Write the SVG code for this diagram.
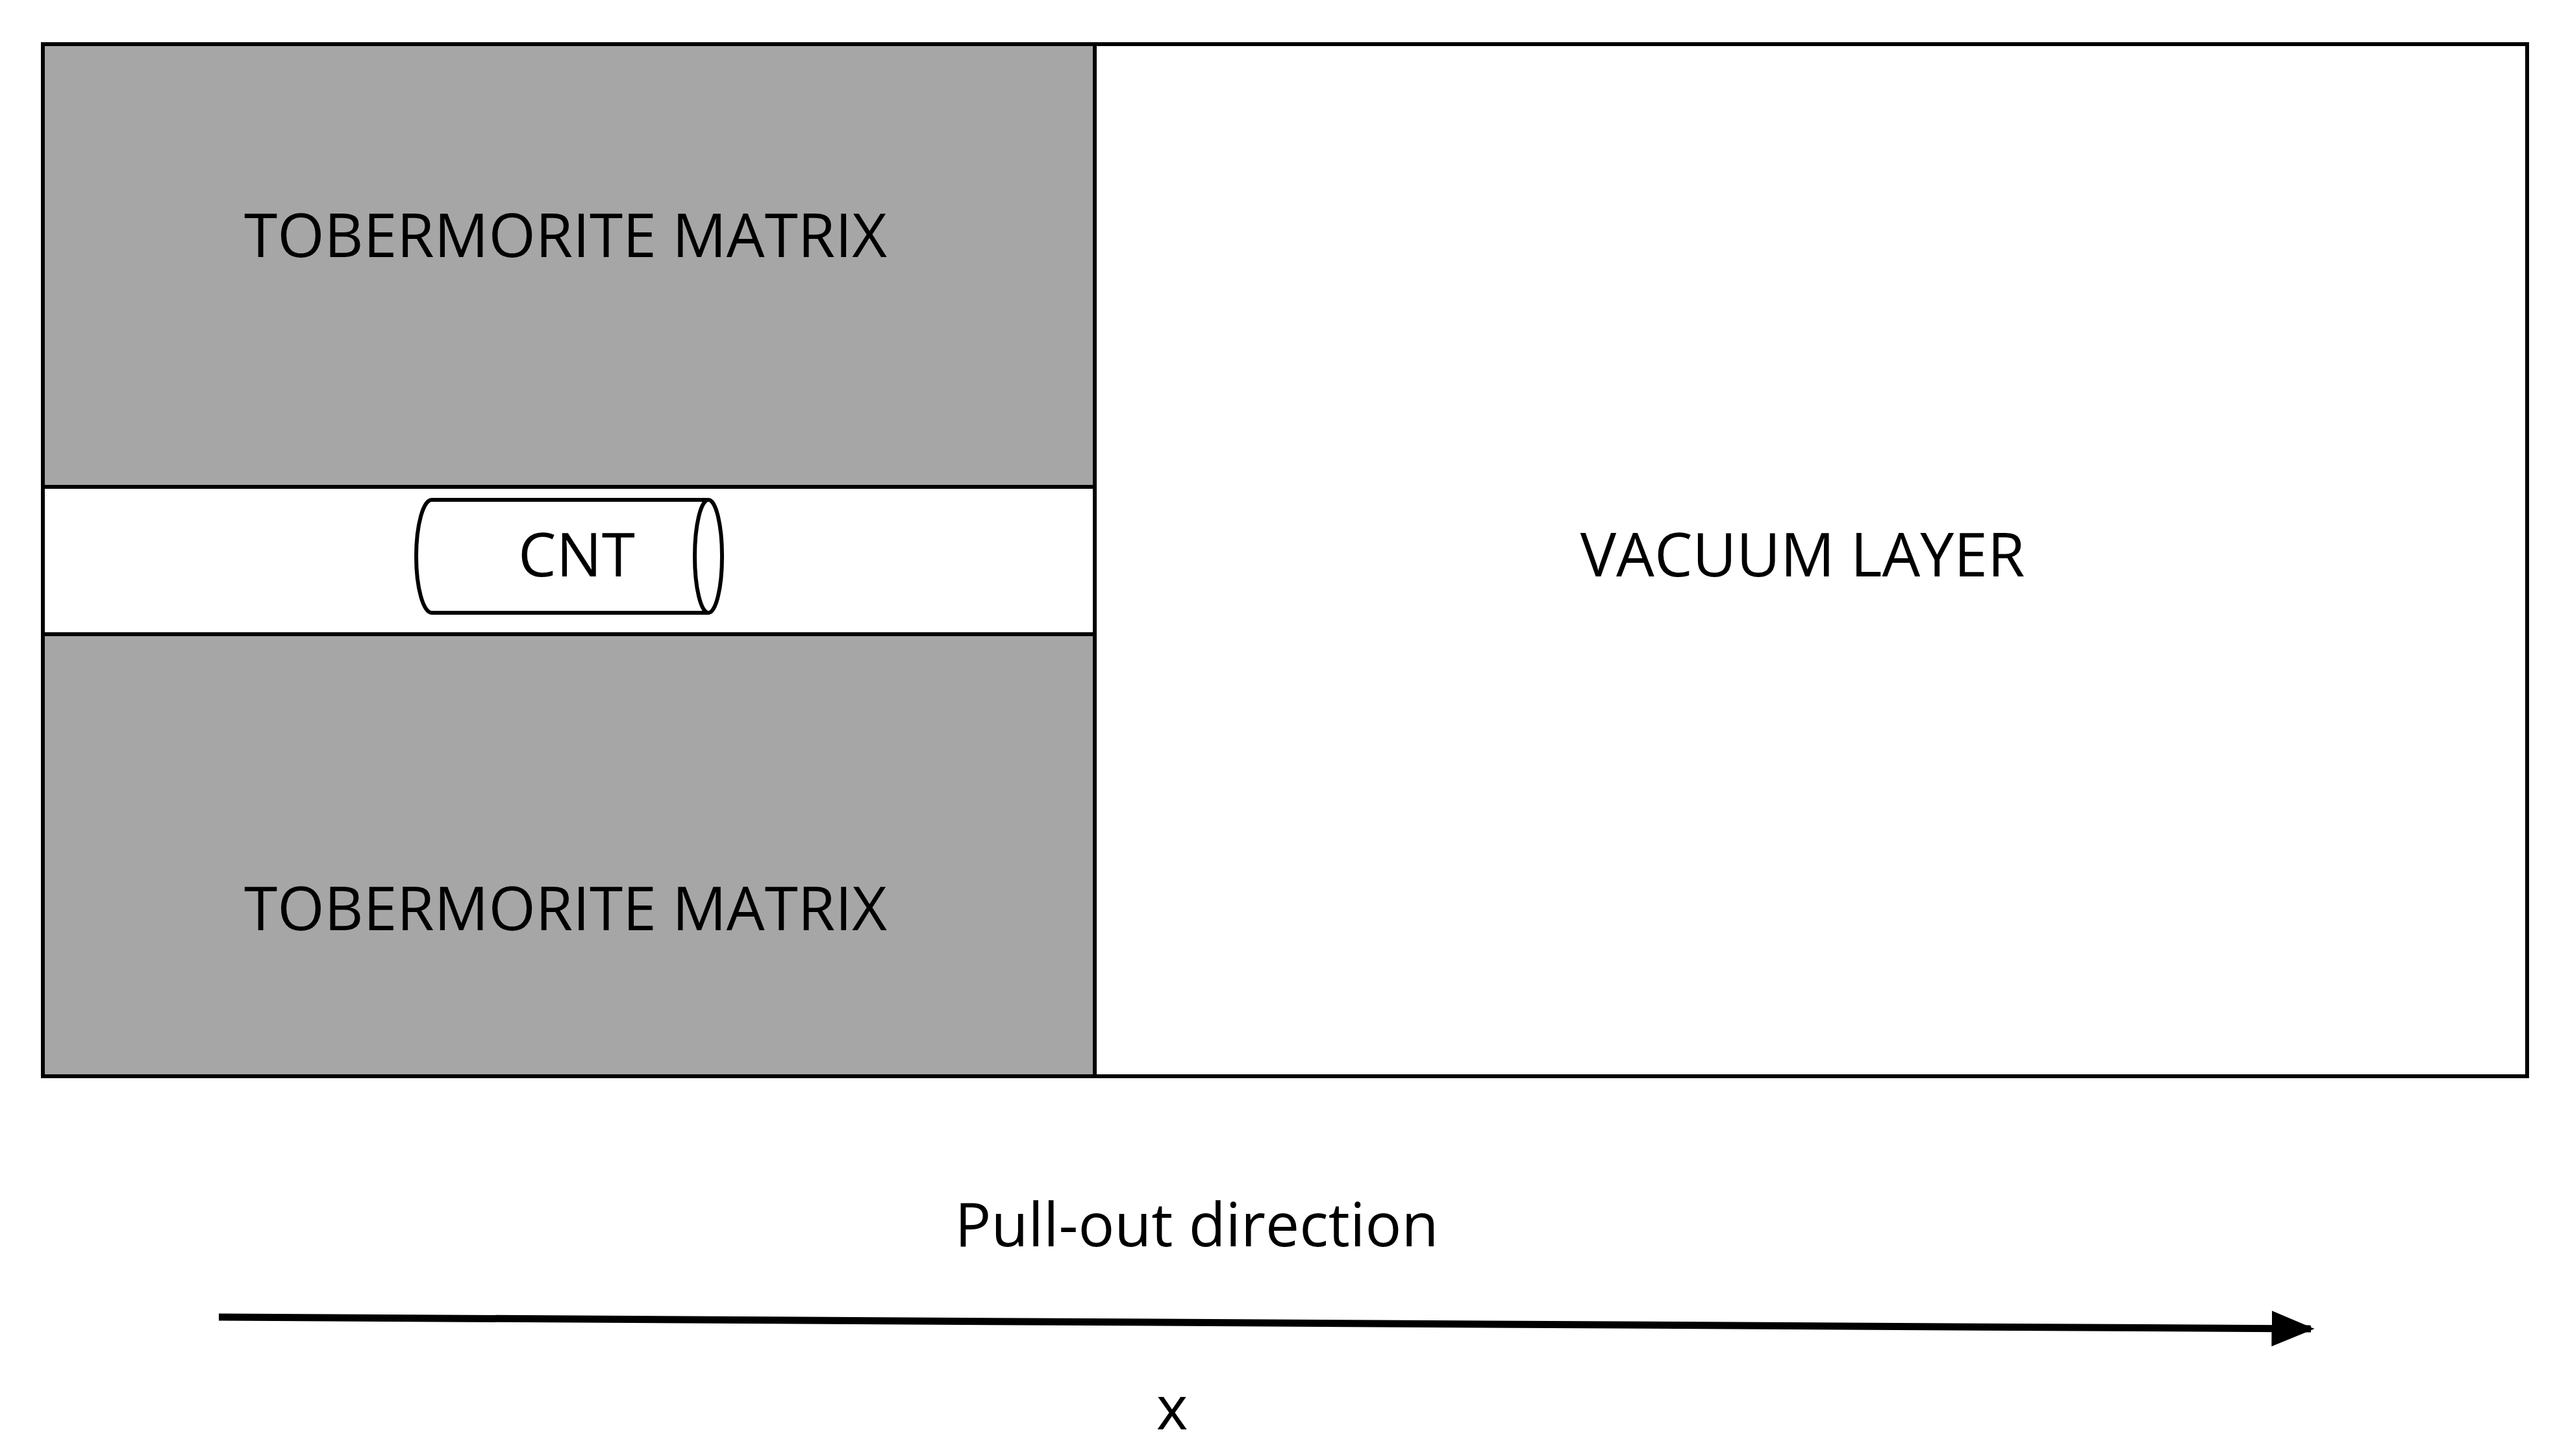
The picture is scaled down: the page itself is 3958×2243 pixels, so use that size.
<svg xmlns="http://www.w3.org/2000/svg" width="3958" height="2243" viewBox="0 0 3958 2243">
<style>
.t{font-family:"Open Sans","Liberation Sans",sans-serif;font-size:93px;fill:#000;text-anchor:middle}
.s{stroke:#000;stroke-width:6}
</style>
<defs><marker id="ah" markerWidth="6" markerHeight="5" refX="5.5" refY="2.5" orient="auto" markerUnits="strokeWidth"><path d="M0,0 L6,2.5 L0,5 z" fill="#000"/></marker></defs>
<rect width="3958" height="2243" fill="#fff"/>
<g id="vacuum"><rect class="s" x="66" y="68" width="3826" height="1590" fill="#fff"/><text class="t" x="2776" y="888">VACUUM LAYER</text></g>
<g id="matrix-top"><rect class="s" x="66" y="68" width="1620" height="682" fill="#a6a6a6"/><text class="t" x="871" y="396">TOBERMORITE MATRIX</text></g>
<g id="strip"><rect class="s" x="66" y="750" width="1620" height="227" fill="#fff"/></g>
<g id="matrix-bottom"><rect class="s" x="66" y="977" width="1620" height="681" fill="#a6a6a6"/><text class="t" x="871" y="1433">TOBERMORITE MATRIX</text></g>
<g id="cnt"><path class="s" fill="#fff" d="M1091,770 L665,770 A24,87 0 0 0 665,944 L1091,944"/><ellipse class="s" fill="#fff" cx="1091" cy="857" rx="21" ry="87"/><text class="t" x="888" y="888">CNT</text></g>
<g id="connectors"><line x1="337" y1="2029" x2="3559" y2="2047" stroke="#000" stroke-width="11" marker-end="url(#ah)"/></g>
<text class="t" x="1843" y="1920">Pull-out direction</text>
<text class="t" x="1805" y="2202">x</text>
</svg>
